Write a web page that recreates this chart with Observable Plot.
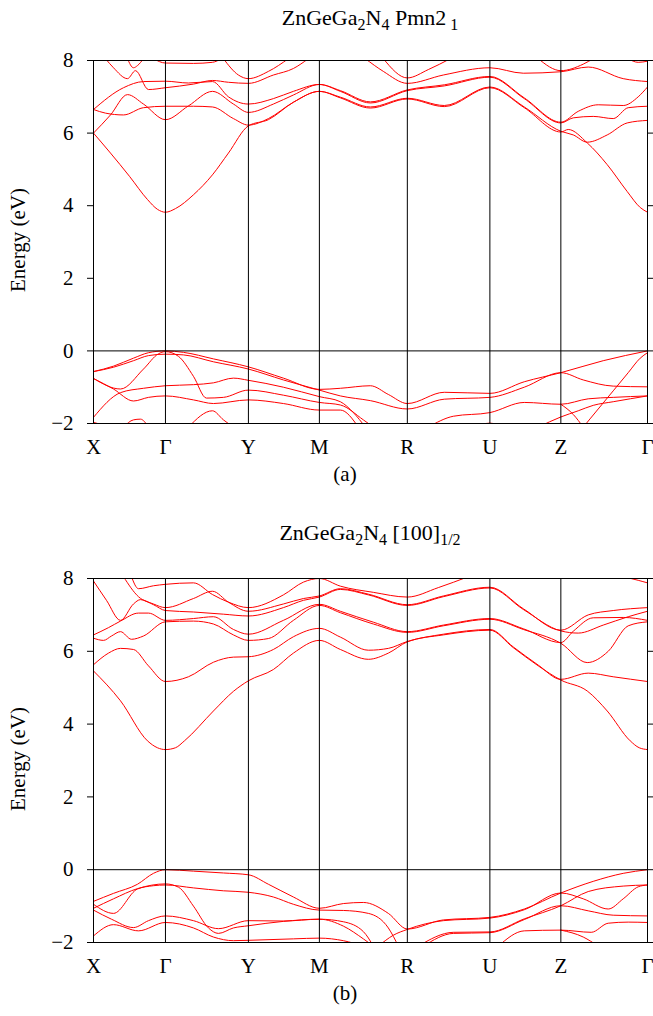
<!DOCTYPE html>
<html><head><meta charset="utf-8">
<script src="https://cdn.jsdelivr.net/npm/d3@7"></script>
<script src="https://cdn.jsdelivr.net/npm/@observablehq/plot@0.6"></script>
<style>
body{margin:0;background:#fff;font-family:"Liberation Serif","Times New Roman",serif;color:#000;}
#root{position:relative;width:653px;height:1016px;overflow:hidden;background:#fff;}
.title{position:absolute;left:93px;width:554px;text-align:center;font-size:22px;line-height:26px;white-space:nowrap;z-index:2;}
.title sub{font-size:16px;vertical-align:-5px;line-height:0;}
.cap{position:absolute;width:60px;text-align:center;font-size:21px;line-height:26px;z-index:2;}
.ylab{position:absolute;width:160px;text-align:center;font-size:21px;line-height:24px;transform:rotate(-90deg);z-index:2;font-family:"Liberation Serif",serif;}
.pl{position:absolute;left:0;z-index:1;}
</style></head><body><div id="root">
<div id="pa" class="pl" style="top:40px"></div>
<div id="pb" class="pl" style="top:558px"></div>
<div class="title" style="top:5px">ZnGeGa<sub>2</sub>N<sub>4</sub> Pmn2<sub>&nbsp;1</sub></div>
<div class="title" style="top:520px">ZnGeGa<sub>2</sub>N<sub>4</sub> [100]<sub>1/2</sub></div>
<div class="cap" style="left:315px;top:461px">(a)</div>
<div class="cap" style="left:315px;top:980px">(b)</div>
<div class="ylab" style="left:-62px;top:228px">Energy (eV)</div>
<div class="ylab" style="left:-62px;top:747px">Energy (eV)</div>
</div>
<script>
const kLabels = ["X","Γ","Y","M","R","U","Z","Γ"];
const kPos = [0, 0.72, 1.55, 2.26, 3.14, 3.966, 4.676, 5.543];
const yTicks = [-2, 0, 2, 4, 6, 8];

// Panel (a): Pmn2_1 — conduction bands
const condA = [
  [[0,6.0],[0.17,5.45],[0.36,4.81],[0.54,4.17],[0.64,3.9],[0.72,3.82],[0.82,3.92],[1.0,4.3],[1.19,4.85],[1.35,5.45],[1.55,6.2],[1.75,6.37],[2.0,6.85],[2.26,7.15],[2.47,6.97],[2.77,6.69],[3.14,6.94],[3.51,6.73],[3.966,7.25],[4.31,6.7],[4.676,6.03],[4.75,6.1],[4.94,5.73],[5.14,5.13],[5.34,4.39],[5.47,3.95],[5.543,3.82]],
  [[0,6.0],[0.17,6.5],[0.34,7.06],[0.5,6.8],[0.72,6.37],[0.95,6.75],[1.19,7.15],[1.4,6.8],[1.55,6.57],[1.8,6.8],[2.0,7.05],[2.26,7.34],[2.47,7.15],[2.77,6.83],[3.14,7.17],[3.51,7.3],[3.966,7.54],[4.31,6.95],[4.676,6.28],[4.8,6.42],[5.0,6.46],[5.2,6.4],[5.35,6.7],[5.543,6.74]],
  [[0,6.65],[0.12,6.55],[0.3,6.5],[0.5,6.7],[0.72,6.74],[1.0,6.74],[1.19,6.72],[1.4,6.4],[1.55,6.22],[1.75,6.4],[2.0,6.85],[2.26,7.15],[2.47,6.99],[2.77,6.72],[3.14,6.96],[3.51,6.76],[3.966,7.27],[4.31,6.72],[4.676,6.05],[4.8,5.95],[4.94,5.75],[5.14,5.95],[5.34,6.28],[5.543,6.35]],
  [[0,6.65],[0.3,7.25],[0.5,7.42],[0.72,7.43],[0.95,7.38],[1.19,7.42],[1.35,7.0],[1.55,6.8],[1.8,6.95],[2.0,7.15],[2.26,7.34],[2.47,7.17],[2.77,6.86],[3.14,7.19],[3.51,7.33],[3.966,7.56],[4.31,6.97],[4.676,6.3],[4.85,6.6],[5.05,6.78],[5.3,6.76],[5.45,7.0],[5.543,7.27]],
  [[0.12,8.05],[0.2,7.8],[0.34,7.5],[0.42,7.72],[0.55,7.2],[0.72,7.25],[1.0,7.35],[1.19,7.45],[1.35,7.4],[1.55,7.37],[1.8,7.6],[2.0,7.78],[2.15,8.05]],
  [[2.72,8.05],[2.9,7.7],[3.14,7.37],[3.5,7.6],[3.966,7.8],[4.3,7.65],[4.676,7.69],[4.95,7.82],[5.3,7.5],[5.543,7.42]],
  [[0.34,8.05],[0.4,7.8],[0.44,7.86],[0.5,8.05]],
  [[0.6,8.05],[0.72,7.93],[1.0,7.92],[1.19,7.95],[1.28,8.05]],
  [[1.3,8.05],[1.45,7.6],[1.55,7.5],[1.75,7.7],[1.95,8.05]],
  [[2.9,8.05],[3.14,7.52],[3.35,7.75],[3.57,8.05]],
  [[4.45,8.05],[4.676,7.72],[4.9,7.9],[5.0,8.05]],
  [[5.35,8.05],[5.45,7.95],[5.543,7.98]]
];
// Panel (a) — valence bands
const valA = [
  [[0,-0.57],[0.2,-0.42],[0.4,-0.2],[0.55,-0.05],[0.72,0],[0.9,-0.04],[1.2,-0.22],[1.55,-0.44],[1.9,-0.75],[2.26,-1.06],[2.47,-1.03],[2.77,-0.96],[2.95,-1.2],[3.14,-1.45],[3.51,-1.14],[3.966,-1.17],[4.31,-0.85],[4.676,-0.6],[5.1,-0.27],[5.543,0]],
  [[0,-0.57],[0.2,-0.45],[0.4,-0.27],[0.55,-0.13],[0.72,-0.09],[0.9,-0.11],[1.2,-0.3],[1.55,-0.5],[1.9,-0.8],[2.26,-1.08],[2.47,-1.24],[2.77,-1.37],[3.14,-1.6],[3.51,-1.33],[3.966,-1.28],[4.31,-1.0],[4.676,-0.6],[4.9,-0.8],[5.2,-0.97],[5.543,-0.99]],
  [[0,-0.76],[0.27,-1.05],[0.5,-0.5],[0.65,-0.08],[0.72,-0.02],[0.85,-0.15],[1.0,-0.7],[1.13,-1.3],[1.3,-1.28],[1.55,-1.08],[1.9,-1.22],[2.26,-1.42],[2.47,-1.49],[2.7,-1.9],[2.8,-2.1]],
  [[0,-1.83],[0.27,-1.15],[0.5,-1.03],[0.72,-0.96],[1.0,-0.93],[1.2,-0.88],[1.4,-0.75],[1.55,-0.81],[1.9,-1.0],[2.26,-1.26],[2.47,-1.4],[2.6,-1.7],[2.72,-2.1]],
  [[0,-0.76],[0.2,-1.05],[0.4,-1.38],[0.55,-1.28],[0.72,-1.24],[1.0,-1.35],[1.2,-1.45],[1.55,-1.35],[1.9,-1.45],[2.26,-1.63],[2.47,-1.63],[2.65,-2.1]],
  [[0,-1.97],[0.18,-2.1]],
  [[0.3,-2.1],[0.4,-1.9],[0.47,-1.88],[0.55,-2.1]],
  [[0.95,-2.1],[1.19,-1.65],[1.3,-1.9],[1.4,-2.1]],
  [[3.35,-2.1],[3.6,-1.8],[3.966,-1.7],[4.31,-1.42],[4.676,-1.47],[4.95,-1.32],[5.2,-1.28],[5.543,-1.24]],
  [[4.45,-2.1],[4.676,-1.82],[4.85,-1.65],[5.0,-1.5],[5.2,-1.4],[5.543,-1.24]],
  [[4.9,-2.1],[5.05,-1.6],[5.2,-1.1],[5.35,-0.6],[5.47,-0.2],[5.543,-0.05]],
  [[4.676,-1.47],[4.8,-1.75],[4.9,-2.1]],
  [[3.8,-2.1],[3.966,-1.99],[4.1,-2.1]]
];
// Panel (b): [100]_1/2 — conduction bands
const condB = [
  [[0,5.46],[0.27,4.64],[0.54,3.54],[0.64,3.35],[0.72,3.3],[0.82,3.35],[0.91,3.54],[1.2,4.36],[1.4,4.9],[1.55,5.19],[1.8,5.5],[2.0,5.95],[2.26,6.3],[2.47,6.05],[2.75,5.78],[2.95,5.95],[3.14,6.26],[3.5,6.45],[3.966,6.58],[4.2,6.1],[4.45,5.6],[4.676,5.21],[4.94,4.91],[5.14,4.36],[5.37,3.54],[5.46,3.35],[5.543,3.3]],
  [[0,5.63],[0.15,5.95],[0.27,6.08],[0.4,6.05],[0.55,5.6],[0.72,5.17],[0.95,5.3],[1.2,5.7],[1.4,5.84],[1.55,5.85],[1.8,6.05],[2.0,6.4],[2.26,6.63],[2.47,6.39],[2.75,6.03],[2.95,6.08],[3.14,6.27],[3.5,6.47],[3.966,6.6],[4.2,6.12],[4.45,5.62],[4.676,5.23],[4.95,5.4],[5.2,5.3],[5.543,5.17]],
  [[0,6.36],[0.1,6.3],[0.18,6.42],[0.27,6.54],[0.38,6.33],[0.5,6.42],[0.72,6.81],[1.0,6.83],[1.2,6.75],[1.4,6.45],[1.55,6.3],[1.75,6.35],[2.0,6.85],[2.26,7.26],[2.47,7.06],[2.8,6.75],[3.14,6.52],[3.5,6.7],[3.966,6.88],[4.3,6.6],[4.676,6.22],[4.94,5.69],[5.15,6.0],[5.35,6.7],[5.543,6.81]],
  [[0,6.45],[0.15,6.65],[0.27,6.83],[0.45,7.05],[0.55,7.05],[0.72,6.85],[1.0,6.9],[1.2,6.95],[1.4,6.6],[1.55,6.47],[1.9,6.85],[2.26,7.29],[2.47,7.1],[2.8,6.8],[3.14,6.54],[3.5,6.72],[3.966,6.9],[4.3,6.62],[4.676,6.24],[4.8,6.55],[5.0,6.92],[5.3,6.93],[5.543,6.85]],
  [[0,7.93],[0.13,7.4],[0.27,6.85],[0.4,7.3],[0.47,7.42],[0.6,7.28],[0.72,7.12],[1.0,7.08],[1.3,7.02],[1.55,6.97],[1.9,7.2],[2.1,7.4],[2.26,7.49],[2.47,7.7],[2.75,7.55],[3.14,7.26],[3.5,7.5],[3.966,7.74],[4.3,7.15],[4.676,6.56],[4.85,6.5],[5.1,6.72],[5.35,6.95],[5.543,7.1]],
  [[0.3,8.05],[0.45,7.5],[0.6,7.3],[0.72,7.2],[1.0,7.45],[1.19,7.65],[1.35,7.35],[1.55,7.1],[1.9,7.3],[2.1,7.45],[2.26,7.52],[2.47,7.72],[2.75,7.57],[3.14,7.28],[3.5,7.52],[3.966,7.76],[4.3,7.17],[4.676,6.58],[4.95,7.0],[5.2,7.12],[5.543,7.2]],
  [[0.38,8.05],[0.45,7.72],[0.6,7.8],[0.72,7.84],[1.0,7.88],[1.19,7.56],[1.35,7.35],[1.55,7.2],[1.9,7.55],[2.1,7.9],[2.26,8.0],[2.47,7.79],[2.8,7.62],[3.14,7.49],[3.45,7.75],[3.75,8.05]],
  [[5.3,8.05],[5.45,7.95],[5.543,7.88]],
  [[0,8.0],[0.05,8.05]]
];
// Panel (b) — valence bands
const valB = [
  [[0,-0.87],[0.2,-0.65],[0.44,-0.4],[0.6,-0.1],[0.72,0],[1.0,-0.04],[1.3,-0.09],[1.55,-0.14],[1.75,-0.4],[2.0,-0.75],[2.26,-1.06],[2.5,-0.93],[2.7,-0.9],[2.95,-1.2],[3.14,-1.63],[3.5,-1.38],[3.966,-1.31],[4.31,-1.08],[4.676,-0.64],[5.0,-0.32],[5.3,-0.1],[5.543,0]],
  [[0,-0.95],[0.2,-1.2],[0.44,-0.53],[0.6,-0.44],[0.72,-0.42],[1.0,-0.5],[1.3,-0.58],[1.55,-0.62],[1.8,-0.75],[2.0,-0.95],[2.26,-1.11],[2.5,-1.12],[2.75,-1.2],[2.95,-1.6],[3.05,-2.1]],
  [[0,-1.06],[0.2,-0.8],[0.44,-0.52],[0.72,-0.39],[0.85,-0.48],[1.0,-1.0],[1.15,-1.6],[1.25,-1.75],[1.4,-1.6],[1.55,-1.54],[1.9,-1.42],[2.26,-1.36],[2.5,-1.43],[2.7,-1.7],[2.8,-2.1]],
  [[0,-1.11],[0.18,-1.36],[0.4,-1.59],[0.55,-1.4],[0.72,-1.27],[1.0,-1.4],[1.25,-1.62],[1.55,-1.4],[1.9,-1.41],[2.26,-1.36],[2.5,-1.55],[2.7,-1.9],[2.8,-2.1]],
  [[0,-1.82],[0.2,-1.51],[0.45,-1.68],[0.72,-1.45],[1.0,-1.6],[1.2,-1.85],[1.4,-1.95],[1.55,-1.94],[2.0,-1.9],[2.26,-1.88],[2.5,-1.95],[2.7,-2.1]],
  [[3.25,-2.1],[3.6,-1.72],[3.966,-1.71],[4.31,-1.35],[4.676,-0.99],[4.95,-0.6],[5.3,-0.45],[5.543,-0.42]],
  [[2.85,-2.1],[3.0,-1.8],[3.14,-1.64],[3.5,-1.4],[3.966,-1.33],[4.31,-1.1],[4.676,-0.64],[4.9,-0.8],[5.15,-1.08],[5.3,-0.8],[5.45,-0.47],[5.543,-0.42]],
  [[3.3,-2.1],[3.6,-1.75],[3.966,-1.73],[4.31,-1.37],[4.676,-0.99],[4.95,-1.13],[5.2,-1.25],[5.543,-1.27]],
  [[4.05,-2.1],[4.31,-1.68],[4.676,-1.66],[4.98,-1.72],[5.15,-1.47],[5.35,-1.44],[5.543,-1.45]],
  [[4.676,-1.66],[4.9,-1.85],[5.05,-2.1]]
];

function panel(bands, plotH) {
  const data = bands.flatMap((b, i) => b.map(([k, e]) => ({k, e, band: i})));
  return Plot.plot({
    width: 653, height: 20 + plotH + 45,
    marginTop: 20, marginBottom: 45, marginLeft: 93, marginRight: 6,
    x: {domain: [0, kPos[kPos.length - 1]]},
    y: {domain: [-2, 8]},
    style: {fontFamily: "Liberation Serif, Times New Roman, serif", background: "transparent"},
    marks: [
      Plot.line(data, {x: "k", y: "e", z: "band", stroke: "#ff0000", strokeWidth: 1, curve: "monotone-x", clip: true}),
      Plot.ruleX(kPos.slice(1, -1), {stroke: "black", strokeWidth: 1}),
      Plot.ruleY([0], {stroke: "black", strokeWidth: 1}),
      Plot.frame({stroke: "black", strokeWidth: 1}),
      Plot.axisX({ticks: kPos, tickFormat: d => kLabels[kPos.indexOf(d)], tickSize: 0, tickPadding: 16, fontSize: 21, fontFamily: "Liberation Serif", label: null}),
      Plot.axisY({ticks: yTicks, tickSize: 6, tickPadding: 14, fontSize: 21, fontFamily: "Liberation Serif", label: null}),
      Plot.axisY({anchor: "right", ticks: yTicks, tickSize: 6, tickFormat: () => "", label: null})
    ]
  });
}
const allA = condA.concat(valA);
const allB = condB.concat(valB);
document.getElementById("pa").appendChild(panel(allA, 363));
document.getElementById("pb").appendChild(panel(allB, 364));
</script>
</body></html>
